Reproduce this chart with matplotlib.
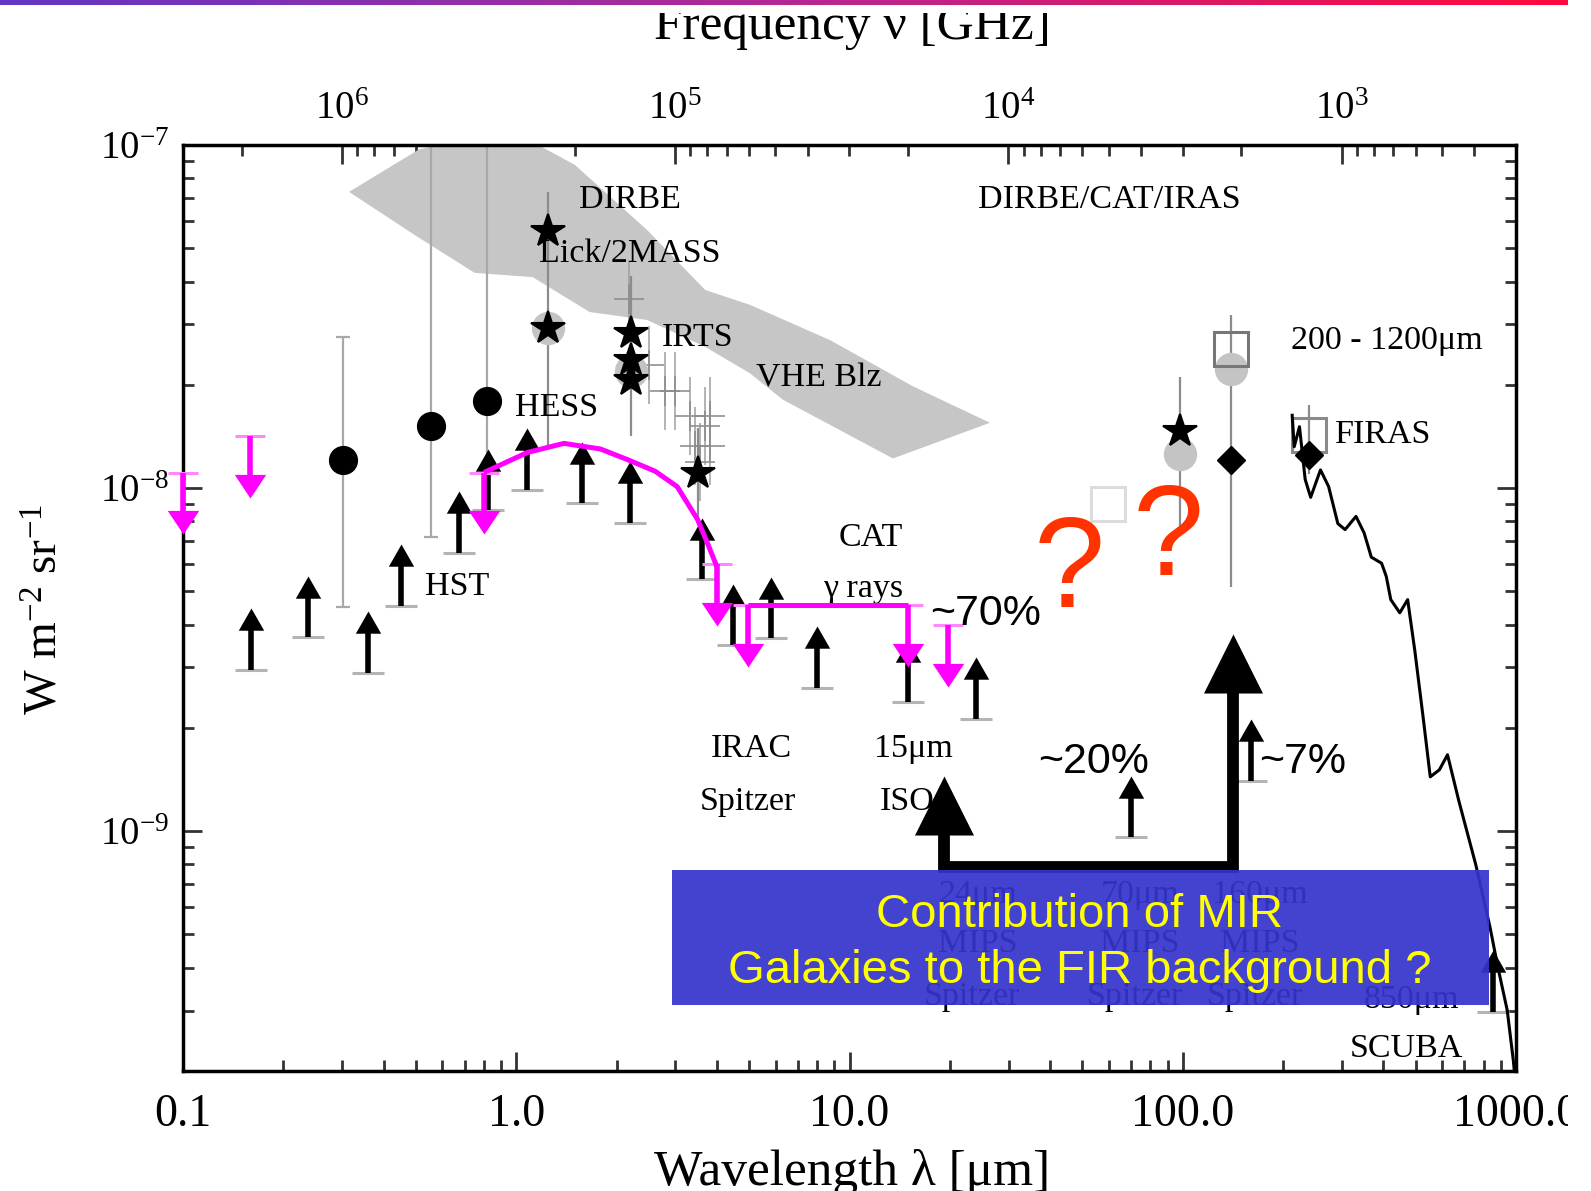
import numpy as np
import matplotlib
matplotlib.use("Agg")
import matplotlib.pyplot as plt
from matplotlib.path import Path
from matplotlib.patches import Rectangle, Polygon
from matplotlib.colors import LinearSegmentedColormap

plt.rcParams['font.family'] = ['Liberation Serif', 'DejaVu Serif']
plt.rcParams['mathtext.fontset'] = 'custom'
plt.rcParams['mathtext.rm'] = 'Liberation Serif'
plt.rcParams['mathtext.it'] = 'Liberation Serif:italic'
plt.rcParams['mathtext.bf'] = 'Liberation Serif:bold'

C_UM_GHZ = 299792.458  # nu [GHz] * lambda [um]

# ===============================
# Datos (lambda en um, intensidad en W m^-2 sr^-1)
# ===============================
# envolvente permitida por los rayos gamma (banda gris)
band_up_lam = [0.315, 0.51, 0.66, 1.10, 1.50, 2.47, 3.69, 5.03, 8.74, 15.5, 26.4]
band_up_flux = [7.3e-8, 9.7e-8, 1.03e-7, 1.03e-7, 8.75e-8, 5.65e-8, 3.78e-8, 3.42e-8, 2.70e-8, 1.98e-8, 1.55e-8]
band_lo_lam = [26.4, 13.5, 6.31, 5.03, 3.69, 2.47, 1.66, 1.12, 0.75, 0.507, 0.315]
band_lo_flux = [1.55e-8, 1.22e-8, 1.81e-8, 2.16e-8, 2.58e-8, 3.09e-8, 3.26e-8, 4.12e-8, 4.24e-8, 5.39e-8, 7.3e-8]

# cuentas de galaxias: limites inferiores
lim_lam = [0.160, 0.237, 0.360, 0.452, 0.673, 0.820, 1.08, 1.58, 2.19, 3.62,
           4.47, 5.80, 8.0, 15.0, 24.0, 69.8, 159.7, 853]
lim_flux = [2.95e-9, 3.67e-9, 2.90e-9, 4.54e-9, 6.47e-9, 8.61e-9, 9.86e-9, 9.03e-9, 7.93e-9, 5.42e-9,
            3.48e-9, 3.65e-9, 2.61e-9, 2.38e-9, 2.13e-9, 9.6e-10, 1.40e-9, 2.97e-10]

# limites superiores (magenta)
ul_lam = [0.10, 0.159, 0.80, 4.0, 4.97, 15.0, 19.8]
ul_flux = [1.11e-8, 1.42e-8, 1.11e-8, 6.0e-9, 4.57e-9, 4.57e-9, 3.99e-9]
hess_lam = [0.80, 1.08, 1.39, 1.79, 2.16, 2.61, 3.04, 3.50, 3.75, 4.0]
hess_flux = [1.11e-8, 1.27e-8, 1.35e-8, 1.30e-8, 1.21e-8, 1.12e-8, 1.01e-8, 8.1e-9, 6.9e-9, 5.9e-9]
cat_lam = [4.97, 15.0]
cat_flux = [4.57e-9, 4.57e-9]

# medidas directas
circ_lam = [0.302, 0.555, 0.817]
circ_flux = [1.21e-8, 1.52e-8, 1.79e-8]
circ_lo = [4.5e-9, 7.2e-9, 1.1e-8]
circ_hi = [2.75e-8, 1.5e-7, 1.5e-7]

star_lam = [1.245, 1.245, 2.21, 2.21, 2.21, 3.51, 98.4]
star_flux = [5.6e-8, 2.93e-8, 2.83e-8, 2.36e-8, 2.06e-8, 1.11e-8, 1.47e-8]
halo_lam = [1.245, 2.21, 98.4, 140]
halo_flux = [2.93e-8, 2.2e-8, 1.26e-8, 2.23e-8]

bar_lam = [1.245, 2.21, 3.51, 98.4, 140, 240]
bar_lo = [1.32e-8, 1.42e-8, 8.2e-9, 7.57e-9, 5.16e-9, 1.1e-8]
bar_hi = [7.3e-8, 4.15e-8, 1.5e-8, 2.11e-8, 3.2e-8, 1.75e-8]

irts_lam = [2.18, 2.50, 2.79, 2.99, 3.32, 3.44, 3.56, 3.69, 3.81, 3.81]
irts_flux = [3.56e-8, 2.28e-8, 1.92e-8, 1.92e-8, 1.62e-8, 1.33e-8, 1.19e-8, 1.52e-8, 1.62e-8, 1.33e-8]

diam_lam = [140, 240]
diam_flux = [1.21e-8, 1.25e-8]
sq_lam = [140, 240, 59.8]
sq_flux = [2.54e-8, 1.43e-8, 9.0e-9]
sq_color = ['#777777', '#8a8a8a', '#dcdcdc']

firas_lam = [213, 216, 224, 233, 242, 259, 274, 292, 307, 331, 350, 368, 395, 408, 421,
             448, 473, 497, 526, 553, 589, 623, 673, 757, 835, 883, 941, 982, 1010]
firas_flux = [1.63e-8, 1.32e-8, 1.51e-8, 1.06e-8, 9.4e-9, 1.13e-8, 1.01e-8, 7.88e-9, 7.57e-9,
              8.27e-9, 7.41e-9, 6.29e-9, 6.04e-9, 5.53e-9, 4.73e-9, 4.33e-9, 4.73e-9, 3.36e-9,
              2.16e-9, 1.44e-9, 1.51e-9, 1.67e-9, 1.23e-9, 8.0e-10, 5.27e-10, 4.0e-10, 3.01e-10,
              2.14e-10, 1.6e-10]

# flechas gruesas: contribucion MIR -> FIR
contrib_lam = [19.2, 141.9]
contrib_base = 7.87e-10
contrib_tip = [1.45e-9, 3.75e-9]

x_ticks = [0.1, 1.0, 10.0, 100.0, 1000.0]
x_ticklabels = ['0.1', '1.0', '10.0', '100.0', '1000.0']

# ===============================
# Marcadores de punta de flecha (la punta queda en el punto)
# ===============================
def head(w, h, down=False):
    s = -1 if down else 1
    return Path([(-w, -s * h), (w, -s * h), (0, 0), (-w, -s * h)],
                [Path.MOVETO, Path.LINETO, Path.LINETO, Path.CLOSEPOLY])

UP_SMALL = head(1, 1.75)
DOWN_MAG = head(1, 1.5, down=True)
UP_BIG = head(1, 2)
ARROW_DEX = 0.18

fig = plt.figure(figsize=(15.91, 11.91), dpi=100)
ax = fig.add_axes([183 / 1591, 1 - 1071 / 1191, 1333 / 1591, 926 / 1191])
ax.set_xscale('log')
ax.set_yscale('log')
ax.set_xlim(0.1, 1000)
ax.set_ylim(2e-10, 1e-7)

# banda gris
poly = list(zip(band_up_lam, band_up_flux)) + list(zip(band_lo_lam, band_lo_flux))
ax.add_patch(Polygon(poly, closed=True, facecolor='#c6c6c6', edgecolor='none', zorder=1))

# barras de error grises
ax.vlines(circ_lam, circ_lo, circ_hi, color='#a8a8a8', lw=1.6, zorder=2)
ax.plot(circ_lam[:1] * 2, [circ_lo[0], circ_hi[0]], ls='none', marker='_', ms=10, mew=1.6,
        color='#a8a8a8', zorder=2)
ax.plot(circ_lam[1:2], circ_lo[1:2], ls='none', marker='_', ms=10, mew=1.6, color='#a8a8a8', zorder=2)
ax.vlines(bar_lam, bar_lo, bar_hi, color='#8c8c8c', lw=1.6, zorder=2)

# cruces IRTS
irts = np.array(irts_flux)
ax.vlines(irts_lam, irts / 1.3, irts * 1.3, color='#9a9a9a', lw=1.3, alpha=0.8, zorder=2)
ax.plot(irts_lam, irts_flux, ls='none', marker='+', ms=22, mew=1.4, color='#8a8a8a', alpha=0.8, zorder=2)

# halos grises
ax.plot(halo_lam, halo_flux, ls='none', marker='o', ms=24, color='#c4c4c4', mec='none', zorder=2)

# limites inferiores (flechas negras)
lim = np.array(lim_flux)
tips = lim * 10 ** ARROW_DEX
ax.plot(lim_lam, lim_flux, ls='none', marker='_', ms=23, mew=2.2, color='#b4b4b4', zorder=3)
ax.vlines(lim_lam, lim, tips / 10 ** 0.035, color='black', lw=4, zorder=4)
ax.plot(lim_lam, tips, ls='none', marker=UP_SMALL, ms=32, color='black', mew=0, zorder=4)

# limites superiores (magenta)
mag = '#ff00ff'
ul = np.array(ul_flux)
ul_tips = ul / 10 ** ARROW_DEX
ax.plot(ul_lam, ul_flux, ls='none', marker='_', ms=22, mew=2.2, color='#ff88ff', zorder=5, clip_on=False)
ax.vlines(ul_lam, ul, ul_tips * 10 ** 0.03, color=mag, lw=4, zorder=5, clip_on=False)
ax.plot(ul_lam, ul_tips, ls='none', marker=DOWN_MAG, ms=34, color=mag, mew=0, zorder=5, clip_on=False)
ax.plot(hess_lam, hess_flux, color=mag, lw=3.6, zorder=5, solid_capstyle='butt')
ax.plot(cat_lam, cat_flux, color=mag, lw=3.6, zorder=5, solid_capstyle='butt')

# puntos medidos
ax.plot(circ_lam, circ_flux, ls='none', marker='o', ms=20, color='black', zorder=6)
ax.plot(star_lam, star_flux, ls='none', marker='*', ms=25, color='black', mec='black', mew=1.5, zorder=6)
for lam, f, c in zip(sq_lam, sq_flux, sq_color):
    ax.plot([lam], [f], ls='none', marker='s', ms=25, mfc='none', mec=c, mew=2.2, zorder=6)
ax.plot(diam_lam, diam_flux, ls='none', marker='D', ms=14, color='black', zorder=7)

# espectro FIRAS
ax.plot(firas_lam, firas_flux, color='black', lw=2.2, zorder=6)

# flechas gruesas
ax.plot([contrib_lam[0], contrib_lam[0], contrib_lam[1], contrib_lam[1]],
        [contrib_tip[0] / 10 ** 0.1, contrib_base, contrib_base, contrib_tip[1] / 10 ** 0.1],
        color='black', lw=8.5, solid_joinstyle='miter', solid_capstyle='butt', zorder=8)
ax.plot(contrib_lam, contrib_tip, ls='none', marker=UP_BIG, ms=85, color='black', mew=0, zorder=8)

# etiquetas
lab = dict(transform=ax.transAxes, ha='center', va='center', fontsize=24.5, zorder=3)
ax.text(0.335, 0.941, 'DIRBE', **lab)
ax.text(0.335, 0.883, 'Lick/2MASS', **lab)
ax.text(0.386, 0.792, 'IRTS', **lab)
ax.text(0.477, 0.748, 'VHE Blz', **lab)
ax.text(0.280, 0.716, 'HESS', **lab)
ax.text(0.2056, 0.523, 'HST', **lab)
ax.text(0.516, 0.576, 'CAT', **lab)
ax.text(0.510, 0.521, 'γ rays', **lab)
ax.text(0.695, 0.941, 'DIRBE/CAT/IRAS', **lab)
ax.text(0.903, 0.789, '200 - 1200μm', **lab)
ax.text(0.900, 0.6875, 'FIRAS', **lab)
ax.text(0.426, 0.348, 'IRAC', **lab)
ax.text(0.424, 0.2906, 'Spitzer', **lab)
ax.text(0.548, 0.348, '15μm', **lab)
ax.text(0.543, 0.2906, 'ISO', **lab)
ax.text(0.918, 0.024, 'SCUBA', **lab)
# etiquetas MIPS / SCUBA que quedan bajo el recuadro azul
for fx, t in zip([0.596, 0.718, 0.808], ['24μm', '70μm', '160μm']):
    ax.text(fx, 0.190, t, **lab)
    ax.text(fx, 0.137, 'MIPS', **lab)
    ax.text(fx - 0.004, 0.080, 'Spitzer', **lab)
ax.text(0.9216, 0.077, '850μm', **lab)

pct = dict(transform=ax.transAxes, ha='center', va='center', fontsize=31,
           family=['Liberation Sans', 'DejaVu Sans'], zorder=9)
ax.text(0.6017, 0.493, '~70%', **pct)
ax.text(0.683, 0.334, '~20%', **pct)
ax.text(0.840, 0.334, '~7%', **pct)
q = dict(transform=ax.transAxes, ha='center', va='baseline', fontsize=92, color='#ff3300',
         family=['Liberation Sans', 'DejaVu Sans'], zorder=9)
ax.text(0.665, 0.501, '?', **q)
ax.text(0.739, 0.536, '?', **q)

# ejes
ax.set_xticks(x_ticks)
ax.set_xticklabels(x_ticklabels)
ax.xaxis.set_minor_formatter(plt.NullFormatter())
ax.set_yticks([1e-9, 1e-8, 1e-7])
ax.tick_params(which='both', direction='in', top=False, right=True, width=2, color='#333333')
ax.tick_params(which='major', length=14)
ax.tick_params(which='minor', length=8)
ax.tick_params(axis='x', labelsize=33, pad=16)
ax.tick_params(axis='y', labelsize=28, pad=10)
for s in ax.spines.values():
    s.set_linewidth(2.5)

sec = ax.secondary_xaxis('top', functions=(lambda x: C_UM_GHZ / np.maximum(x, 1e-30),
                                           lambda x: C_UM_GHZ / np.maximum(x, 1e-30)))
sec.tick_params(which='both', direction='in', width=2, color='#333333')
sec.tick_params(which='major', length=14, labelsize=28, pad=12)
sec.tick_params(which='minor', length=8)

fig.text(852 / 1591, 1 - 39 / 1191, 'Frequency ν [GHz]', ha='center', va='baseline', fontsize=37)
fig.text(852 / 1591, 1 - 1185 / 1191, 'Wavelength λ [μm]', ha='center', va='baseline', fontsize=37)
fig.text(46 / 1591, 1 - 609 / 1191, r'W m$^{-2}$ sr$^{-1}$', rotation=90, ha='center', va='center',
         fontsize=34)

# recuadro azul con la pregunta
fig.patches.append(Rectangle((672 / 1591, 1 - 1005 / 1191), 817 / 1591, 135 / 1191,
                             transform=fig.transFigure, facecolor='#3434cc', edgecolor='none',
                             alpha=0.93, zorder=5))
box_txt = dict(ha='center', va='baseline', fontsize=34, color='#ffff00',
               family=['Liberation Sans', 'DejaVu Sans'], zorder=6)
fig.text(1080 / 1591, 1 - 927 / 1191, 'Contribution of MIR', **box_txt)
fig.text(1080 / 1591, 1 - 983 / 1191, 'Galaxies to the FIR background ?', **box_txt)

# bordes de la diapositiva
fig.patches.append(Rectangle((0, 1 - 13 / 1191), 1, 13 / 1191, transform=fig.transFigure,
                             facecolor='white', edgecolor='none', zorder=7))
fig.patches.append(Rectangle((1568 / 1591, 0), 23 / 1591, 1, transform=fig.transFigure,
                             facecolor='white', edgecolor='none', zorder=7))
bar_ax = fig.add_axes([0, 1 - 5 / 1191, 1568 / 1591, 5 / 1191], zorder=8)
grad = LinearSegmentedColormap.from_list('barra', ['#6236c4', '#b42894', '#ff0a3c'])
bar_ax.imshow(np.linspace(0, 1, 256)[None, :], aspect='auto', cmap=grad)
bar_ax.axis('off')

fig.savefig('out.png', dpi=100)
